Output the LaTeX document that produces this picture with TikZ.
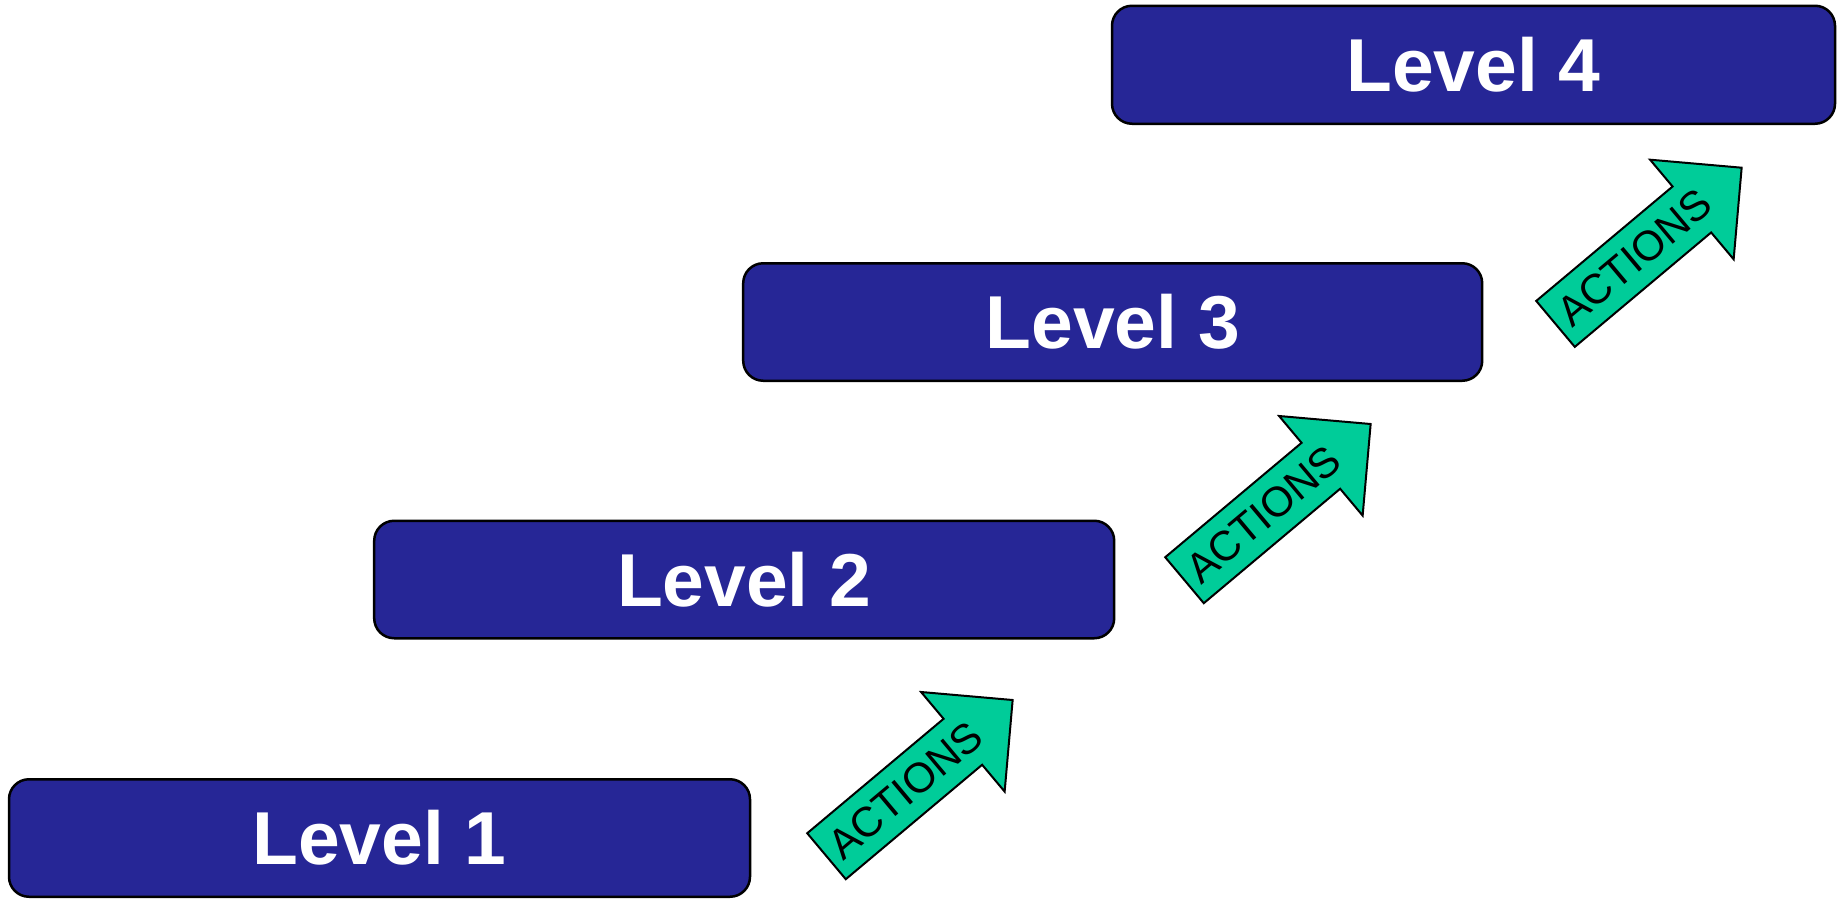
\documentclass[tikz,border=0pt]{standalone}
\usepackage{fontspec}
\setmainfont{Liberation Sans}
\definecolor{levelblue}{RGB}{38,38,150}
\definecolor{actgreen}{RGB}{0,204,153}
\begin{document}
\begin{tikzpicture}[x=1pt,y=-1pt,
  levelbox/.style={draw=black, line width=2.5pt, fill=levelblue, rounded corners=20pt,
    inner sep=0pt, text=white, font=\bfseries\fontsize{75}{80}\selectfont},
  blockarrow/.style={draw=black, line width=2pt, fill=actgreen, line join=miter},
  actlabel/.style={font=\fontsize{42}{46}\selectfont, text=black, rotate=40, inner sep=0pt}]
\useasboundingbox (0,0) rectangle (1844,898);

\node[levelbox, minimum width=741pt, minimum height=117.5pt] (l1) at (379.5,838) {Level 1};
\node[levelbox, minimum width=740pt, minimum height=117.5pt] (l2) at (744.2,579.5) {Level 2};
\node[levelbox, minimum width=739pt, minimum height=117.5pt] (l3) at (1112.7,322) {Level 3};
\node[levelbox, minimum width=723pt, minimum height=118pt] (l4) at (1473.5,64.75) {Level 4};

\begin{scope}[shift={(826.5,856.2)}, rotate=40]
  \draw[blockarrow] (0,-30) -- (178,-30) -- (178,-65) -- (243,0) -- (178,65) -- (178,30) -- (0,30) -- cycle;
  \node[actlabel] (a1) at (103,0) {ACTIONS};
\end{scope}
\begin{scope}[shift={(1184.5,580.2)}, rotate=40]
  \draw[blockarrow] (0,-30) -- (178,-30) -- (178,-65) -- (243,0) -- (178,65) -- (178,30) -- (0,30) -- cycle;
  \node[actlabel] (a2) at (103,0) {ACTIONS};
\end{scope}
\begin{scope}[shift={(1555.5,323.9)}, rotate=40]
  \draw[blockarrow] (0,-30) -- (178,-30) -- (178,-65) -- (243,0) -- (178,65) -- (178,30) -- (0,30) -- cycle;
  \node[actlabel] (a3) at (103,0) {ACTIONS};
\end{scope}
\end{tikzpicture}
\end{document}
